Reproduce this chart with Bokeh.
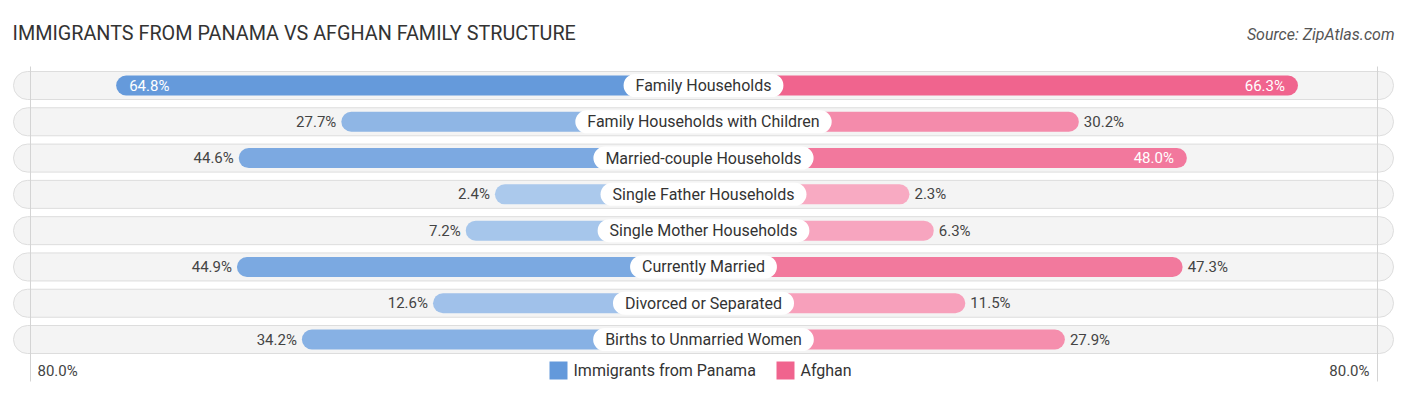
from bokeh.plotting import figure
from bokeh.models import Range1d
from bokeh.core.properties import value
from bokeh.embed import file_html
from bokeh.resources import INLINE

# ---------------- data ----------------
categories = [
    "Family Households",
    "Family Households with Children",
    "Married-couple Households",
    "Single Father Households",
    "Single Mother Households",
    "Currently Married",
    "Divorced or Separated",
    "Births to Unmarried Women",
]
panama = [64.8, 27.7, 44.6, 2.4, 7.2, 44.9, 12.6, 34.2]
afghan = [66.3, 30.2, 48.0, 2.3, 6.3, 47.3, 11.5, 27.9]
series_names = ["Immigrants from Panama", "Afghan"]
axis_label = "80.0%"
axis_max = 80.0
title_text = "IMMIGRANTS FROM PANAMA VS AFGHAN FAMILY STRUCTURE"
source_text = "Source: ZipAtlas.com"

# ---------------- layout constants ----------------
W, H, M = 1398, 387, 0
CX = 702.0          # screen x of the centre line
PX = 6.07           # pixels per percent
OFF = 31.8          # bar stub (percent units) hidden under the centre label
ROW0, ROWSTEP = 85.0, 36.29
FONT = value("Roboto")


def sx(screen_x):
    """screen pixel -> data x (percent units)"""
    return (screen_x - CX) / PX


def hexrgb(h):
    h = h.lstrip("#")
    return tuple(int(h[i:i + 2], 16) for i in (0, 2, 4))


def mix(lo, hi, t):
    a, b = hexrgb(lo), hexrgb(hi)
    return "#%02x%02x%02x" % tuple(round(a[i] + (b[i] - a[i]) * t) for i in range(3))


BLUE_LO, BLUE_HI = "#aecbed", "#6399db"
PINK_LO, PINK_HI = "#f8acc4", "#f0648e"
vmax = max(max(panama), max(afghan))

p = figure(width=W, height=H, x_range=Range1d(sx(M), sx(M + W)),
           y_range=Range1d(M + H, M), output_backend="svg",
           toolbar_location=None, min_border=0,
           x_axis_type=None, y_axis_type=None)
p.outline_line_color = None
p.xgrid.visible = False
p.ygrid.visible = False
p.background_fill_color = "white"
p.border_fill_color = "white"

n = len(categories)
ys = [ROW0 + i * ROWSTEP for i in range(n)]
tl, tr = sx(13), sx(1393)

# background tracks
p.hbar(y=ys, left=tl, right=tr, height=28, fill_color="#f4f4f4",
       line_color="#dddddd", line_width=1, border_radius=14)

# grid lines at the axis extremes
p.segment(x0=[sx(30), sx(1377)], x1=[sx(30), sx(1377)], y0=[66, 66],
          y1=[381, 381], line_color="#d4d4d4", line_width=1)

# bars
p.hbar(y=ys, left=[-(OFF + v) for v in panama], right=0, height=20,
       fill_color=[mix(BLUE_LO, BLUE_HI, v / vmax) for v in panama],
       line_color=None, border_radius=10)
p.hbar(y=ys, left=0, right=[OFF + v for v in afghan], height=20,
       fill_color=[mix(PINK_LO, PINK_HI, v / vmax) for v in afghan],
       line_color=None, border_radius=10)

# value labels
INSIDE = 47.5
for side, vals in (("L", panama), ("R", afghan)):
    for y, v in zip(ys, vals):
        end = OFF + v
        inside = v > INSIDE
        if side == "L":
            x = -end + (13 / PX if inside else -5 / PX)
            align = "left" if inside else "right"
        else:
            x = end + (-13 / PX if inside else 5 / PX)
            align = "right" if inside else "left"
        p.text(x=[x], y=[y], text=["%.1f%%" % v], text_align=align,
               text_baseline="middle", text_font=FONT, text_font_size="15px",
               text_color="white" if inside else "#444444")

# category labels in white pills
p.text(x=[sx(703)] * n, y=ys, text=categories, text_align="center",
       text_baseline="middle", text_font=FONT, text_font_size="16px",
       text_color="#333333", background_fill_color="white",
       padding=dict(left=12, right=12, top=2, bottom=2), border_radius=12)

# title and source
p.text(x=[sx(12)], y=[33], text=[title_text], text_align="left",
       text_baseline="middle", text_font=FONT, text_font_size="19.8px",
       text_color="#333333")
p.text(x=[sx(1394)], y=[34], text=[source_text], text_align="right",
       text_baseline="middle", text_font=FONT, text_font_size="16px",
       text_font_style="italic", text_color="#555555")

# bottom axis labels
p.text(x=[sx(37)], y=[370], text=[axis_label], text_align="left",
       text_baseline="middle", text_font=FONT, text_font_size="15px",
       text_color="#444444")
p.text(x=[sx(1369)], y=[370], text=[axis_label], text_align="right",
       text_baseline="middle", text_font=FONT, text_font_size="15px",
       text_color="#444444")

# legend
p.rect(x=[sx(558), sx(785)], y=[370, 370], width=18 / PX, height=18,
       fill_color=[BLUE_HI, PINK_HI], line_color=None)
p.text(x=[sx(573), sx(800)], y=[370, 370], text=series_names,
       text_align="left", text_baseline="middle", text_font=FONT,
       text_font_size="16px", text_color="#333333")

open("out.html", "w").write(file_html(p, INLINE))
